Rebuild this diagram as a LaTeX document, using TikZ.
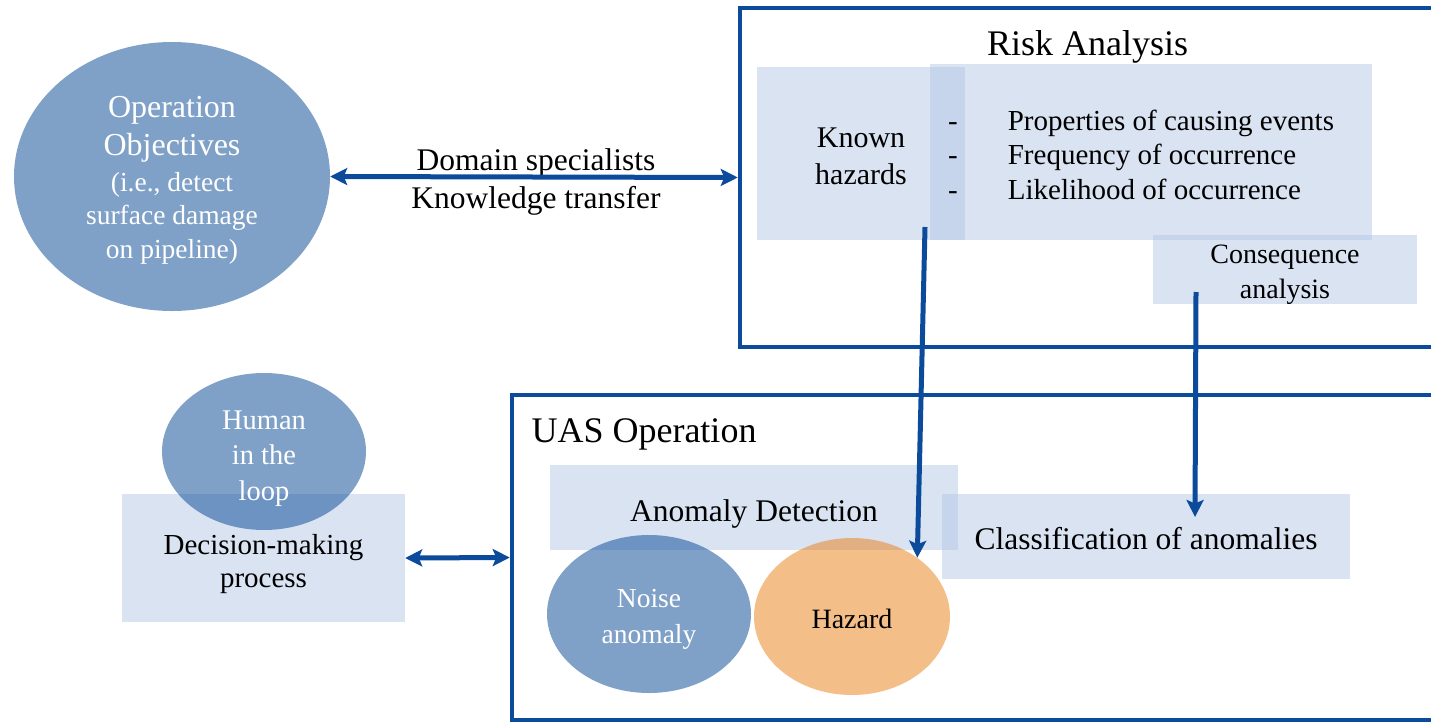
\documentclass[tikz,border=0pt]{standalone}
\usepackage{fontspec}
\setmainfont{Liberation Serif}
\usetikzlibrary{arrows.meta,shapes.geometric}

\definecolor{frameblue}{RGB}{12,75,155}
\definecolor{panelblue}{RGB}{180,199,230}
\definecolor{bubbleblue}{RGB}{0,67,145}
\definecolor{bubbleorange}{RGB}{233,125,17}

\newcommand\fsz[2]{\fontsize{#1}{#2}\selectfont}

\begin{document}
\begin{tikzpicture}[x=1pt,y=-1pt,
  frame/.style={rectangle,draw=frameblue,line width=4.5pt,inner sep=0pt},
  panel/.style={rectangle,fill=panelblue,fill opacity=0.5,text opacity=1,
    inner sep=0pt,align=center},
  bubble/.style={ellipse,fill=bubbleblue,fill opacity=0.5,text opacity=1,
    text=white,inner sep=0pt,align=center},
  hazardbubble/.style={bubble,fill=bubbleorange,text=black},
  tip/.tip={Stealth[length=17pt,width=17pt,inset=3.5pt]},
  twoway/.style={draw=frameblue,line width=5pt,tip-tip},
  oneway/.style={draw=frameblue,line width=5pt,-tip},
]
\useasboundingbox (0,0) rectangle (1431,723);
\clip (0,0) rectangle (1431,723);

% outer frames (open to the right)
\node[frame,minimum width=740pt,minimum height=339pt] (risk) at (1110,177.5) {};
\node[frame,minimum width=968pt,minimum height=325pt] (uas) at (996,557.5) {};

\node[anchor=base,font=\fsz{36}{40}] (risk-title) at (1087.5,55) {Risk Analysis};
\node[anchor=base west,font=\fsz{36}{40}] (uas-title) at (528,442) {UAS Operation};

% risk analysis panels
\node[panel,minimum width=208pt,minimum height=173pt] (known) at (861,153.5) {};
\node[align=center,font=\fsz{30}{37}] (known-text) at (861,156.5) {Known\\hazards};
\node[panel,minimum width=442pt,minimum height=176pt] (props) at (1151,152) {};
\node[panel,minimum width=264pt,minimum height=69pt] (conseq) at (1285,269.5) {};
\node[align=center,font=\fsz{28}{35}] (conseq-text) at (1285,274.5) {Consequence\\analysis};
\node[anchor=west,font=\fsz{29}{34.5},inner sep=0pt] (props-list) at (948,158) {%
  \begin{tabular}{@{}l@{\hspace{50pt}}l@{}}
  - & Properties of causing events\\
  - & Frequency of occurrence\\
  - & Likelihood of occurrence
  \end{tabular}};

% UAS operation panels
\node[panel,minimum width=408pt,minimum height=85pt] (anomaly) at (754,507.5) {};
\node[font=\fsz{31.5}{38}] (anomaly-text) at (754,513.5) {Anomaly Detection};
\node[panel,minimum width=408pt,minimum height=85pt] (classif) at (1146,536.5) {};
\node[font=\fsz{31.5}{38}] (classif-text) at (1146,538.5) {Classification of anomalies};

% decision panel
\node[panel,minimum width=283pt,minimum height=128pt] (decision) at (263.5,558) {};
\node[align=center,font=\fsz{29}{33}] (decision-text) at (263.5,564) {Decision-making\\process};

% bubbles
\node[bubble,minimum width=316pt,minimum height=269pt] (obj) at (172,176.5) {};
\node[text=white,align=center,font=\fsz{32}{38}] (obj-title) at (172,129) {Operation\\Objectives};
\node[text=white,align=center,font=\fsz{27.5}{33.5}] (obj-detail) at (172,218) {(i.e., detect\\surface damage\\on pipeline)};

\node[bubble,minimum width=204pt,minimum height=157pt] (human) at (264,451.5) {};
\node[text=white,align=center,font=\fsz{28.5}{35.5}] (human-text) at (264,458.5) {Human\\in the\\loop};
\node[bubble,minimum width=204pt,minimum height=158pt] (noise) at (649,614) {};
\node[text=white,align=center,font=\fsz{27.5}{36}] (noise-text) at (649,619) {Noise\\anomaly};
\node[hazardbubble,minimum width=196pt,minimum height=157pt] (hazard) at (852,616.5) {};
\node[font=\fsz{28}{34}] (hazard-text) at (852,618.5) {Hazard};

% knowledge transfer link
\node[align=center,font=\fsz{31.5}{38}] (transfer-label) at (536,182) {Domain specialists\\Knowledge transfer};
\draw[twoway] (obj.east) -- (risk.west);
\draw[twoway] (decision.east) -- (uas.west);

% feeds from risk analysis into the operation
\coordinate (known-out) at (925,227);
\coordinate (conseq-out) at (1196,292);
\coordinate (classif-in) at (1195,517);
\draw[oneway] (known-out) -- (hazard.42);
\draw[oneway] (conseq-out) -- (classif-in);
\end{tikzpicture}
\end{document}
